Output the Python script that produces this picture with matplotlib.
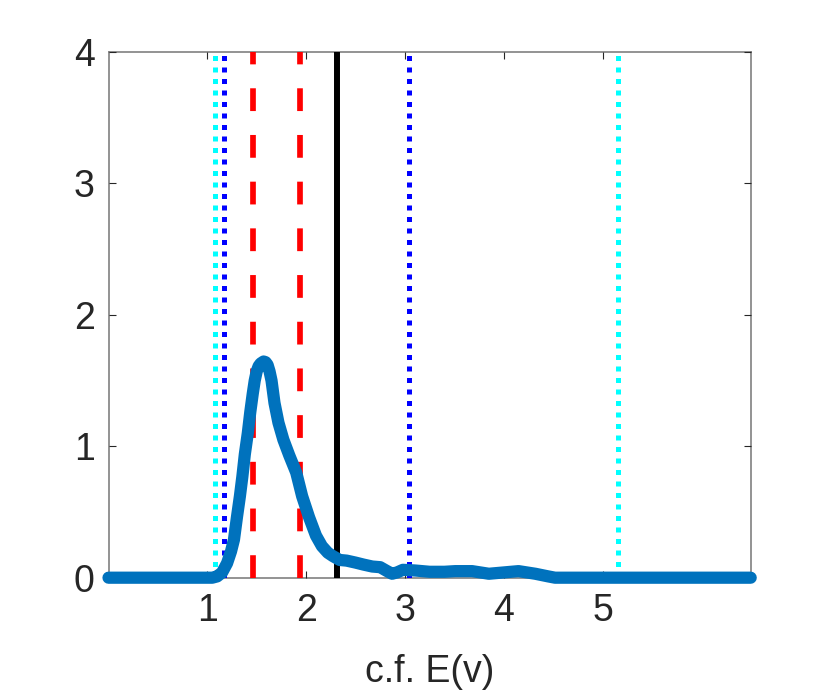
import matplotlib
matplotlib.use("Agg")
import matplotlib.pyplot as plt
import numpy as np

# Density curve
curve_x = [0.0, 0.5, 1.0, 1.05, 1.10, 1.15, 1.20, 1.24, 1.27, 1.30, 1.33, 1.355, 1.38,
           1.41, 1.435, 1.46, 1.48, 1.50, 1.52, 1.54, 1.57, 1.59, 1.61, 1.63, 1.65,
           1.68, 1.72, 1.77, 1.83, 1.90, 1.96, 2.03, 2.10, 2.16, 2.22, 2.27, 2.34,
           2.41, 2.50, 2.58, 2.67, 2.75, 2.82, 2.87, 2.92, 2.98, 3.10, 3.25, 3.40,
           3.51, 3.68, 3.85, 4.00, 4.15, 4.32, 4.45, 4.52, 5.0, 5.5, 6.0, 6.5]
curve_y = [0.0, 0.0, 0.0, 0.0, 0.01, 0.04, 0.11, 0.20, 0.29, 0.46, 0.62, 0.77, 0.94,
           1.10, 1.26, 1.40, 1.50, 1.57, 1.61, 1.63, 1.645, 1.64, 1.62, 1.57, 1.50,
           1.33, 1.18, 1.05, 0.93, 0.80, 0.62, 0.46, 0.32, 0.24, 0.19, 0.165, 0.135,
           0.13, 0.115, 0.10, 0.085, 0.08, 0.05, 0.03, 0.04, 0.06, 0.055, 0.045, 0.045,
           0.05, 0.05, 0.03, 0.04, 0.05, 0.03, 0.01, 0.0, 0.0, 0.0, 0.0, 0.0]

# Reference vertical lines
cyan_x = [1.08, 5.16]
blue_x = [1.17, 3.04]
red_x = [1.46, 1.94]
black_x = [2.31]

x_ticks = [1, 2, 3, 4, 5]
y_ticks = [0, 1, 2, 3, 4]
x_label = "c.f. E(v)"

plt.rcParams['font.family'] = ['Liberation Sans', 'DejaVu Sans']

fig = plt.figure(figsize=(8.3, 6.92), dpi=100)
W, H = 830, 692
ax = fig.add_axes([108.5 / W, 1 - 577.7 / H, (750.7 - 108.5) / W, (577.7 - 52) / H])

for xv in cyan_x:
    ax.axvline(xv, color='#00FFFF', lw=3.6, linestyle=(0, (1, 1.3)), dash_capstyle='butt', zorder=2)
for xv in blue_x:
    ax.axvline(xv, color='#0000FF', lw=3.6, linestyle=(0, (1, 1.3)), dash_capstyle='butt', zorder=2)
for xv in red_x:
    ax.axvline(xv, color='#FF0000', lw=4.1, linestyle=(0, (4.0, 4.2)), dash_capstyle='butt', zorder=2)
for xv in black_x:
    ax.axvline(xv, color='#000000', lw=4.3, zorder=2)

ax.plot(curve_x, curve_y, color='#0072BD', lw=8.8, solid_capstyle='round',
        solid_joinstyle='round', clip_on=False, zorder=3)

ax.set_xlim(0, 6.5)
ax.set_ylim(0, 4)
ax.set_xticks(x_ticks)
ax.set_yticks(y_ticks)
ax.set_xticklabels([str(t) for t in x_ticks])
ax.set_yticklabels([str(t) for t in y_ticks])
ax.tick_params(direction='in', length=5, width=0.8, colors='#262626', labelsize=27,
               top=True, right=True, color='#262626')
ax.tick_params(axis='x', pad=11)
ax.tick_params(axis='y', pad=10)
for s in ax.spines.values():
    s.set_color('#808080')
    s.set_linewidth(1.2)
    s.set_zorder(1)
ax.set_xlabel(x_label, fontsize=27, color='#262626', labelpad=18)

fig.savefig("out.png", dpi=100)
